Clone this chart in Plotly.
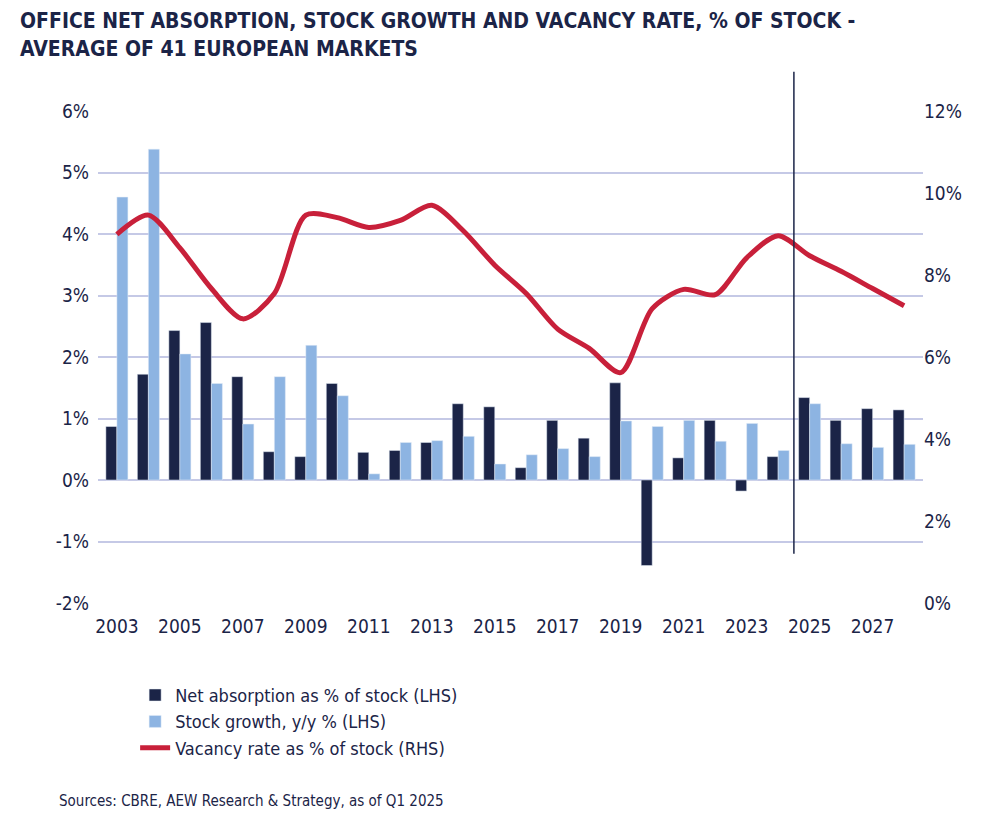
import plotly.graph_objects as go

years = list(range(2003, 2029))
net_abs = [0.87, 1.72, 2.43, 2.56, 1.68, 0.46, 0.38, 1.57, 0.45, 0.48, 0.61, 1.24, 1.19,
           0.20, 0.97, 0.68, 1.58, -1.39, 0.36, 0.97, -0.18, 0.38, 1.34, 0.97, 1.16, 1.14]
stock_g = [4.60, 5.38, 2.05, 1.57, 0.91, 1.68, 2.19, 1.37, 0.10, 0.61, 0.64, 0.71, 0.26,
           0.41, 0.51, 0.38, 0.96, 0.87, 0.97, 0.63, 0.92, 0.48, 1.24, 0.59, 0.53, 0.58]
vacancy = [8.99, 9.46, 8.66, 7.67, 6.93, 7.55, 9.46, 9.40, 9.16, 9.33, 9.70, 9.08, 8.24,
           7.55, 6.68, 6.21, 5.62, 7.18, 7.65, 7.52, 8.42, 8.96, 8.47, 8.09, 7.67, 7.25]

navy = "#1b2447"
font = "DejaVu Sans Condensed, Roboto, sans-serif"
lhs = list(range(-2, 7))

fig = go.Figure()
fig.add_bar(x=years, y=net_abs, name="Net absorption as % of stock (LHS)", marker_color=navy)
fig.add_bar(x=years, y=stock_g, name="Stock growth, y/y % (LHS)", marker_color="#8db4e2")
fig.add_scatter(x=years, y=vacancy, name="Vacancy rate as % of stock (RHS)", yaxis="y2",
                mode="lines", line=dict(color="#c8203a", width=5, shape="spline", smoothing=0.8))

fig.add_shape(type="line", x0=2024.5, x1=2024.5, xref="x", yref="paper", y0=0.1, y1=1.08,
              line=dict(color=navy, width=1.5))

fig.update_layout(
    width=1000, height=818,
    paper_bgcolor="white", plot_bgcolor="white",
    font=dict(family=font, size=19, color=navy),
    title=dict(text="<b>OFFICE NET ABSORPTION, STOCK GROWTH AND VACANCY RATE, % OF STOCK -<br>AVERAGE OF 41 EUROPEAN MARKETS</b>",
               x=0.012, xanchor="left", y=0.975, yanchor="top", font=dict(size=21, color=navy)),
    margin=dict(l=90, r=85, t=103, b=223),
    barmode="group", bargap=0.3, bargroupgap=0,
    xaxis=dict(tickmode="linear", tick0=2003, dtick=2, range=[2002.4, 2028.6], showgrid=False,
               ticks="", showline=False, ticklabelstandoff=10),
    yaxis=dict(range=[-2, 6], tickvals=lhs, ticktext=[f"{v}%" for v in lhs],
               gridcolor="#c5c9e6", gridwidth=1.5, zeroline=False, ticklabelstandoff=8),
    yaxis2=dict(range=[0, 12], dtick=2, ticksuffix="%", overlaying="y", side="right",
                showgrid=False, zeroline=False),
    legend=dict(orientation="h", x=0.045, y=-0.15, xanchor="left", yanchor="top",
                entrywidth=520, entrywidthmode="pixels", font=dict(size=18), traceorder="normal"),
)
fig.add_annotation(text="Sources: CBRE, AEW Research & Strategy, as of Q1 2025", xref="paper", yref="paper",
                   x=-0.05, y=-0.38, xanchor="left", yanchor="top", showarrow=False,
                   font=dict(size=15, color=navy))

fig.write_html("out.html")
